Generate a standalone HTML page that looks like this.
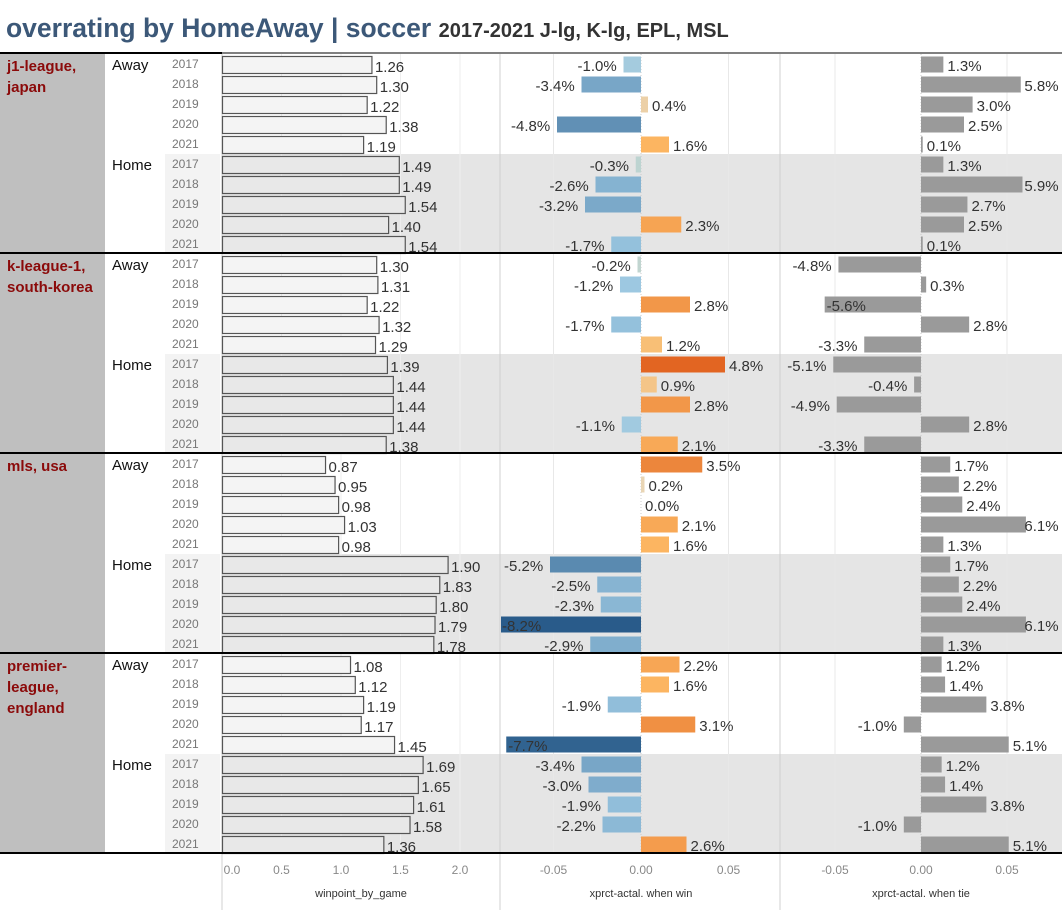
<!DOCTYPE html>
<html><head><meta charset="utf-8"><style>
body{margin:0;background:#fff;font-family:"Liberation Sans",sans-serif;}
svg{display:block}
</style></head><body>
<svg id="c" width="1062" height="910" xmlns="http://www.w3.org/2000/svg" font-family="Liberation Sans, sans-serif"></svg>
<script>
const leagues=["j1-league,|japan","k-league-1,|south-korea","mls, usa","premier-|league,|england"];
const sides=["Away","Home"];
const years=["2017","2018","2019","2020","2021"];
const winpoint=[[1.26,1.30,1.22,1.38,1.19],[1.49,1.49,1.54,1.40,1.54],[1.30,1.31,1.22,1.32,1.29],[1.39,1.44,1.44,1.44,1.38],[0.87,0.95,0.98,1.03,0.98],[1.90,1.83,1.80,1.79,1.78],[1.08,1.12,1.19,1.17,1.45],[1.69,1.65,1.61,1.58,1.36]];
const winDiff=[[-1.0,-3.4,0.4,-4.8,1.6],[-0.3,-2.6,-3.2,2.3,-1.7],[-0.2,-1.2,2.8,-1.7,1.2],[4.8,0.9,2.8,-1.1,2.1],[3.5,0.2,0.0,2.1,1.6],[-5.2,-2.5,-2.3,-8.2,-2.9],[2.2,1.6,-1.9,3.1,-7.7],[-3.4,-3.0,-1.9,-2.2,2.6]];
const tieDiff=[[1.3,5.8,3.0,2.5,0.1],[1.3,5.9,2.7,2.5,0.1],[-4.8,0.3,-5.6,2.8,-3.3],[-5.1,-0.4,-4.9,2.8,-3.3],[1.7,2.2,2.4,6.1,1.3],[1.7,2.2,2.4,6.1,1.3],[1.2,1.4,3.8,-1.0,5.1],[1.2,1.4,3.8,-1.0,5.1]];
const ticks1=[0,0.5,1.0,1.5,2.0];
const ticks2=[-0.05,0,0.05];

const svg=document.getElementById('c');
const NS="http://www.w3.org/2000/svg";
function el(t,a,p){const e=document.createElementNS(NS,t);for(const k in a)e.setAttribute(k,a[k]);(p||svg).appendChild(e);return e;}
const x1=v=>222+v*119;
const x2=v=>641+v*1750;
const x3=v=>921+v*1720;
const TOP=54,ROW=20;
function mix(a,b,t){const p=s=>[1,3,5].map(i=>parseInt(s.substr(i,2),16));const A=p(a),B=p(b);return 'rgb('+A.map((v,i)=>Math.round(v+(B[i]-v)*t)).join(',')+')';}
function winColor(v){if(v>=0){const t=Math.min(v/5,1);return t<0.3?mix('#e6d9c0','#fdb863',t/0.3):mix('#fdb863','#e0601e',(t-0.3)/0.7);}const t=Math.min(-v/8.2,1);return t<0.15?mix('#c8d8cc','#9cc8e2',t/0.15):mix('#9cc8e2','#295b8a',(t-0.15)/0.85);}

// title
const tt=el('text',{x:6,y:37,'font-size':26.5,'font-weight':'bold',fill:'#3c5878'});

tt.textContent='overrating by HomeAway | soccer ';
const ts=el('tspan',{'font-size':20,fill:'#333'},tt);ts.textContent='2017-2021 J-lg, K-lg, EPL, MSL';

// backgrounds
el('rect',{x:0,y:TOP,width:105,height:800,fill:'#bfbfbf'});
for(let g=0;g<8;g++){if(g%2===1){const y=TOP+g*100;el('rect',{x:165,y:y,width:55,height:100,fill:'#f3f3f3'});el('rect',{x:222,y:y,width:840,height:100,fill:'#e5e5e5'});}}
// gridlines
ticks1.slice(1).forEach(t=>el('line',{x1:x1(t),x2:x1(t),y1:TOP,y2:853,stroke:'#eeeeee'}));
[-0.05,0.05].forEach(t=>{el('line',{x1:x2(t),x2:x2(t),y1:TOP,y2:853,stroke:'#e8e8e8'});el('line',{x1:x3(t),x2:x3(t),y1:TOP,y2:853,stroke:'#e8e8e8'});});
el('line',{x1:641,x2:641,y1:TOP,y2:853,stroke:'#ccc','stroke-dasharray':'1,2'});
el('line',{x1:921,x2:921,y1:TOP,y2:853,stroke:'#ccc','stroke-dasharray':'1,2'});
[222,500,780].forEach(x=>el('line',{x1:x,x2:x,y1:TOP,y2:910,stroke:'#d0d0d0'}));

// labels
leagues.forEach((L,i)=>{const t=el('text',{x:7,y:TOP+17+i*200,'font-size':15,'font-weight':'bold',fill:'#8b0a0a'});

L.split('|').forEach((s,j)=>{const sp=el('tspan',{x:7,dy:j?21:0},t);sp.textContent=s;});});
for(let g=0;g<8;g++){const y=TOP+g*100;
const s=el('text',{x:112,y:y+16,'font-size':15,fill:'#111'});s.textContent=sides[g%2];

years.forEach((yr,r)=>{const t=el('text',{x:172,y:y+r*ROW+14,'font-size':12,fill:'#777'});t.textContent=yr;

const cy=y+r*ROW;
const v=winpoint[g][r];
const b=el('rect',{x:222.5,y:cy+2.5,width:x1(v)-222.5,height:17,fill:g%2?'#e8e8e8':'#f4f4f4',stroke:'#555','stroke-width':1.2});

const lt=el('text',{x:x1(v)+3,y:cy+18,'font-size':15,fill:'#333'});lt.textContent=v.toFixed(2);
[[winDiff[g][r],x2,500,780,'win-diff-bar'],[tieDiff[g][r],x3,780,1062,'tie-diff-bar']].forEach(([d,sc,L,R,nm],k)=>{
const a=sc(0),e=sc(d/100);const bx=Math.max(Math.min(a,e),L+1),bw=Math.min(Math.max(a,e),R)-bx;
const br=el('rect',{x:bx,y:cy+2.5,width:Math.max(bw,d===0?0:1.5),height:16,fill:k===0?winColor(d):'#9a9a9a'});

const txt=d.toFixed(1)+'%';const w=txt.length*8.4;
let lx;
if(d>=0){lx=Math.min(e+4,R-4-w);}else{lx=e-4-w;if(lx<L+2)lx=Math.max(e,L)+2;}
const tl=el('text',{x:lx,y:cy+17,'font-size':15,fill:'#333'});tl.textContent=txt;
});
});}
// separators
el('line',{x1:0,x2:222,y1:53,y2:53,stroke:'#000','stroke-width':2});
el('line',{x1:222,x2:1062,y1:53,y2:53,stroke:'#000','stroke-width':1});
[253,453,653,853].forEach(y=>el('line',{x1:0,x2:1062,y1:y,y2:y,stroke:'#000','stroke-width':2}));
// axes
ticks1.forEach((t,i)=>{const a=el('text',{x:i===0?232:x1(t),y:874,'font-size':12,fill:'#888','text-anchor':'middle'});a.textContent=t.toFixed(1);});
ticks2.forEach(t=>{[x2,x3].forEach(sc=>{const a=el('text',{x:sc(t),y:874,'font-size':12,fill:'#888','text-anchor':'middle'});a.textContent=t.toFixed(2);});});
[['winpoint_by_game',361],['xprct-actal. when win',641],['xprct-actal. when tie',921]].forEach(([s,x])=>{const a=el('text',{x:x,y:897,'font-size':11,fill:'#333','text-anchor':'middle'});a.textContent=s;
});
</script>
</body></html>
